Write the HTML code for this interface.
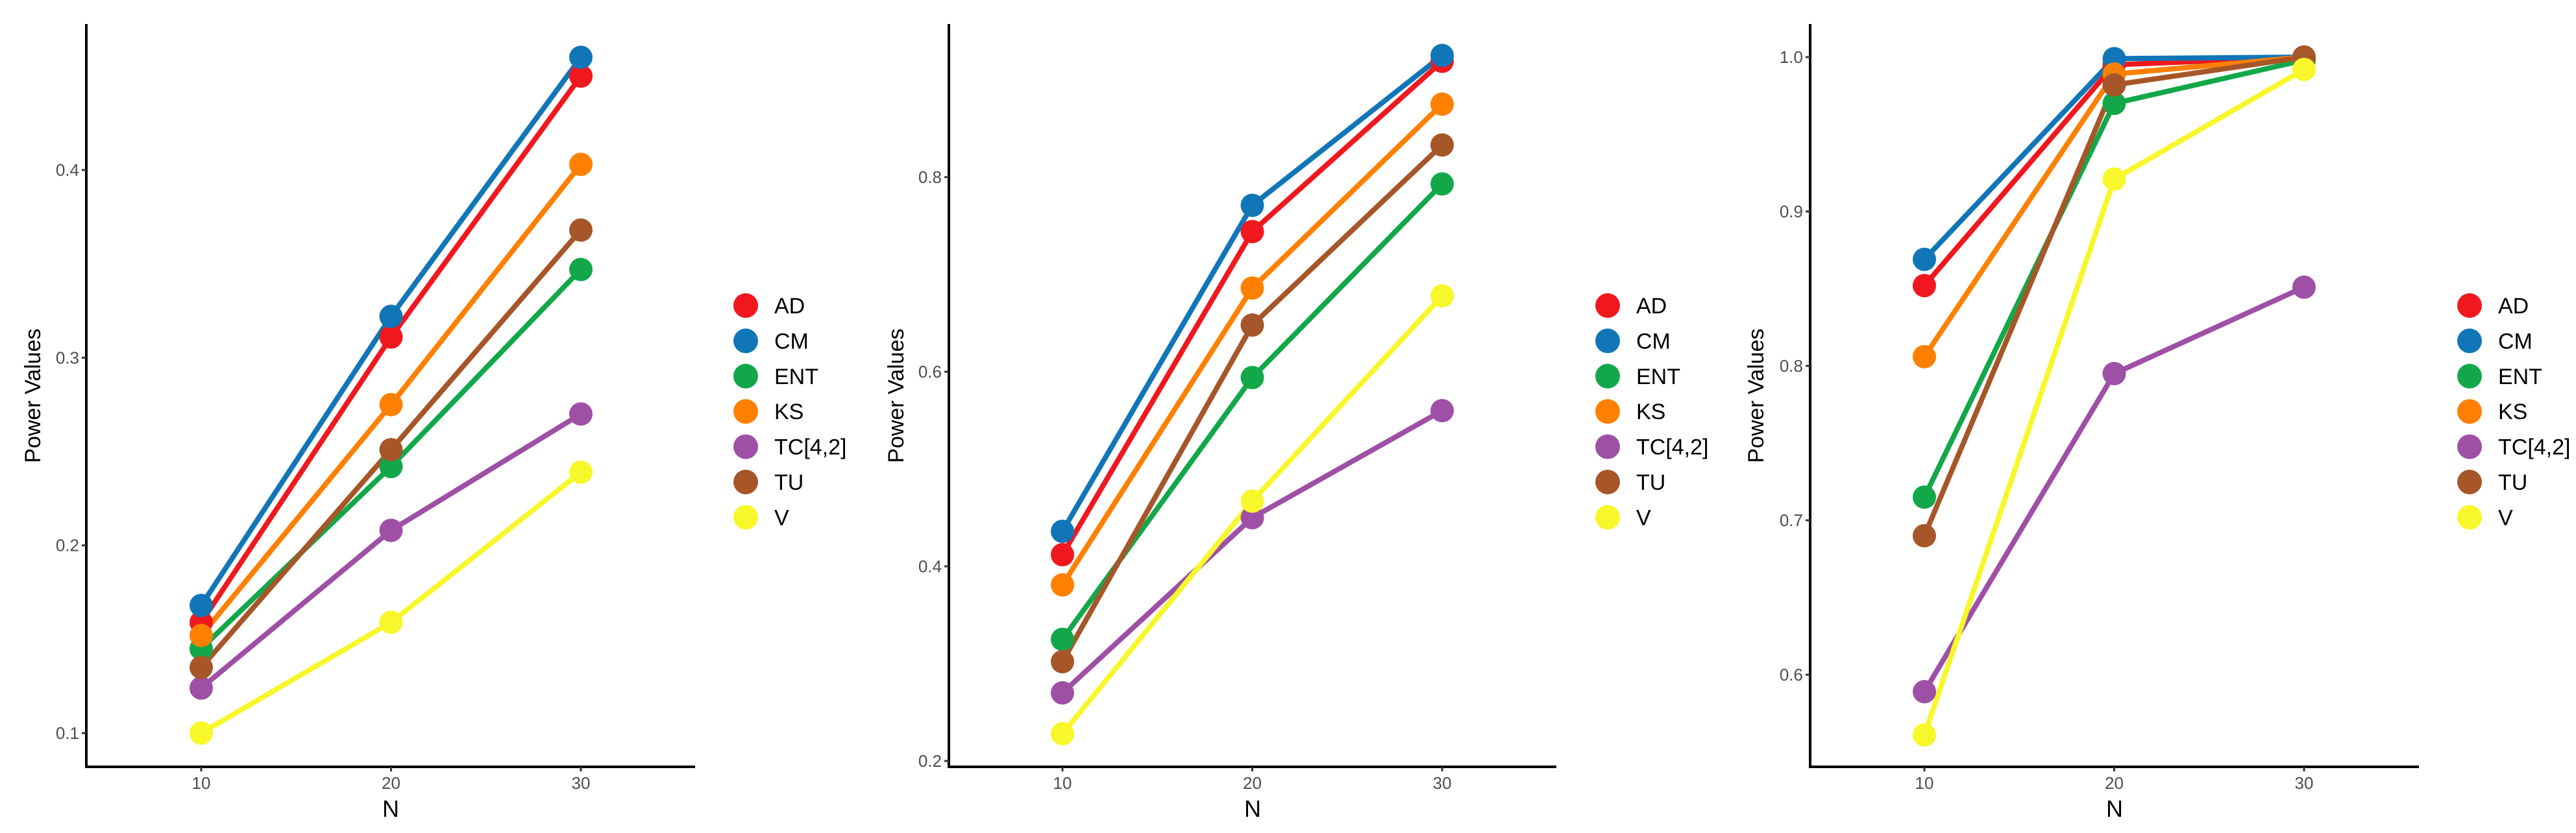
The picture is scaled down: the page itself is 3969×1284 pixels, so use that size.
<!DOCTYPE html>
<html><head><meta charset="utf-8">
<style>
html,body{margin:0;padding:0;background:#fff;}
svg{display:block;font-family:"Liberation Sans",sans-serif;}
</style></head>
<body>
<svg id="fig" width="3969" height="1284" viewBox="0 0 3969 1284" xmlns="http://www.w3.org/2000/svg"></svg>
<script>
const categories = [10, 20, 30];
const seriesNames = ["AD","CM","ENT","KS","TC[4,2]","TU","V"];
const seriesColors = ["#F0181E","#1076B8","#12A84A","#FF8000","#9E4FA6","#A65628","#F7F72A"];
const p1AD = [0.159, 0.311, 0.450];
const p1CM = [0.168, 0.322, 0.460];
const p1ENT = [0.145, 0.242, 0.347];
const p1KS = [0.152, 0.275, 0.403];
const p1TC = [0.124, 0.208, 0.270];
const p1TU = [0.135, 0.251, 0.368];
const p1V = [0.100, 0.159, 0.239];
const p2AD = [0.412, 0.744, 0.919];
const p2CM = [0.436, 0.771, 0.925];
const p2ENT = [0.325, 0.594, 0.793];
const p2KS = [0.381, 0.686, 0.875];
const p2TC = [0.270, 0.450, 0.560];
const p2TU = [0.302, 0.648, 0.833];
const p2V = [0.228, 0.467, 0.678];
const p3AD = [0.852, 0.995, 1.000];
const p3CM = [0.869, 0.999, 1.000];
const p3ENT = [0.715, 0.970, 0.998];
const p3KS = [0.806, 0.989, 1.000];
const p3TC = [0.589, 0.795, 0.851];
const p3TU = [0.690, 0.982, 1.000];
const p3V = [0.561, 0.921, 0.992];
const p1Ticks = [0.1, 0.2, 0.3, 0.4];
const p2Ticks = [0.2, 0.4, 0.6, 0.8];
const p3Ticks = [0.6, 0.7, 0.8, 0.9, 1.0];
const p1Labels = ["0.1","0.2","0.3","0.4"];
const p2Labels = ["0.2","0.4","0.6","0.8"];
const p3Labels = ["0.6","0.7","0.8","0.9","1.0"];

const NS = "http://www.w3.org/2000/svg";
const svg = document.getElementById("fig");
function mk(tag, attrs, parent){
  const e = document.createElementNS(NS, tag);
  for (const k in attrs) e.setAttribute(k, attrs[k]);
  parent.appendChild(e);
  return e;
}
const panels = [
  {data:[p1AD,p1CM,p1ENT,p1KS,p1TC,p1TU,p1V], ticks:p1Ticks, labels:p1Labels,
   ax:133, axR:1071, x10:310, x30:895, vA:0.1, yA:1130, vB:0.4, yB:262, titleX:50, legKey:1149, legText:1193},
  {data:[p2AD,p2CM,p2ENT,p2KS,p2TC,p2TU,p2V], ticks:p2Ticks, labels:p2Labels,
   ax:1462, axR:2398, x10:1637, x30:2222, vA:0.2, yA:1173, vB:0.8, yB:273, titleX:1380, legKey:2477, legText:2521},
  {data:[p3AD,p3CM,p3ENT,p3KS,p3TC,p3TU,p3V], ticks:p3Ticks, labels:p3Labels,
   ax:2789, axR:3727, x10:2965, x30:3550, vA:0.6, yA:1040, vB:1.0, yB:88, titleX:2705, legKey:3805, legText:3849}
];
const axisY = 1182, axisTop = 37;
panels.forEach((p, pi) => {
  const g = mk("g", {}, svg);
  
  
  const xs = v => p.x10 + (v - categories[0]) / (categories[2] - categories[0]) * (p.x30 - p.x10);
  const ys = v => p.yA + (v - p.vA) / (p.vB - p.vA) * (p.yB - p.yA);
  const yl = mk("line", {x1:p.ax, y1:axisTop, x2:p.ax, y2:axisY+2, stroke:"#000", "stroke-width":4}, g);
  
  
  const xl = mk("line", {x1:p.ax-2, y1:axisY, x2:p.axR, y2:axisY, stroke:"#000", "stroke-width":4}, g);
  
  
  p.ticks.forEach((t, i) => {
    const y = ys(t);
    mk("line", {x1:p.ax-7, y1:y, x2:p.ax, y2:y, stroke:"#333", "stroke-width":3}, g);
    const tx = mk("text", {x:p.ax-11, y:y+9, "text-anchor":"end", "font-size":26, fill:"#4d4d4d"}, g);
    tx.textContent = p.labels[i];
    
    
  });
  categories.forEach(c => {
    const x = xs(c);
    mk("line", {x1:x, y1:axisY, x2:x, y2:axisY+7, stroke:"#333", "stroke-width":3}, g);
    const tx = mk("text", {x:x, y:axisY+34, "text-anchor":"middle", "font-size":26, fill:"#4d4d4d"}, g);
    tx.textContent = c;
    
    
  });
  const xt = mk("text", {x:(p.ax+p.axR)/2, y:axisY+77, "text-anchor":"middle", "font-size":36, fill:"#000"}, g);
  xt.textContent = "N";
  
  
  const yt = mk("text", {x:0, y:0, "text-anchor":"middle", "font-size":34, fill:"#000",
    transform:`translate(${p.titleX+12},610) rotate(-90)`}, g);
  yt.textContent = "Power Values";
  
  
  p.data.forEach((vals, si) => {
    const pts = vals.map((v, i) => xs(categories[i]) + "," + ys(v)).join(" ");
    const pl = mk("polyline", {points:pts, fill:"none", stroke:seriesColors[si], "stroke-width":8, "stroke-linejoin":"round"}, g);
    
    
  });
  p.data.forEach((vals, si) => {
    vals.forEach((v, i) => {
      const c = mk("circle", {cx:xs(categories[i]), cy:ys(v), r:18, fill:seriesColors[si]}, g);
      
      
    });
  });
  seriesNames.forEach((n, si) => {
    const y = 471 + si * 54.4;
    const lg = mk("g", {}, g);
    
    
    mk("circle", {cx:p.legKey, cy:y, r:19, fill:seriesColors[si]}, lg);
    const t = mk("text", {x:p.legText, y:y+12, "font-size":34, fill:"#000"}, lg);
    t.textContent = n;
  });
});
</script>
</body></html>
